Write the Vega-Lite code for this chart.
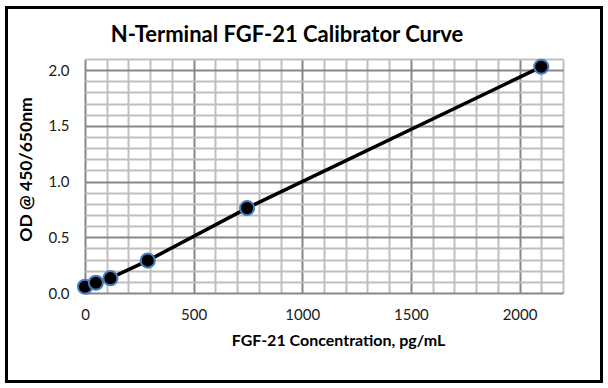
{
  "$schema": "https://vega.github.io/schema/vega-lite/v6.json",
  "width": 478,
  "height": 234,
  "autosize": {"type": "none"},
  "padding": {"left": 85, "top": 59, "right": 45, "bottom": 95},
  "background": "white",
  "config": {
    "view": {"stroke": null},
    "font": "Lato",
    "axis": {
      "labelFont": "Lato",
      "labelFontSize": 15,
      "labelColor": "#1a1a1a",
      "titleFont": "Lato",
      "titleFontWeight": "bold",
      "titleColor": "#000000",
      "ticks": false,
      "domain": false,
      "grid": true,
      "gridWidth": 2,
      "labelOverlap": false,
      "labelFlush": false
    }
  },
  "title": {
    "text": "N-Terminal FGF-21 Calibrator Curve",
    "font": "Lato",
    "fontSize": 22,
    "fontWeight": "bold",
    "color": "#000000",
    "anchor": "middle",
    "frame": "group",
    "dx": -37,
    "offset": -41
  },
  "data": {
    "values": [
      {"conc": 0, "od": 0.056},
      {"conc": 50, "od": 0.092},
      {"conc": 117, "od": 0.133},
      {"conc": 289, "od": 0.291},
      {"conc": 746, "od": 0.762},
      {"conc": 2100, "od": 2.03}
    ]
  },
  "encoding": {
    "x": {
      "field": "conc",
      "type": "quantitative",
      "scale": {"domain": [0, 2200], "nice": false, "zero": false},
      "axis": {
        "title": "FGF-21 Concentration, pg/mL",
        "titleFontSize": 16,
        "grid": true,
        "values": [0, 100, 200, 300, 400, 500, 600, 700, 800, 900, 1000, 1100, 1200, 1300, 1400, 1500, 1600, 1700, 1800, 1900, 2000, 2100, 2200],
        "labelExpr": "datum.value % 500 === 0 ? datum.label : ''",
        "format": "d",
        "labelPadding": 14,
        "gridColor": {"condition": {"test": "datum.value % 500 === 0", "value": "#878787"}, "value": "#BFBFBF"},
        "titleX": 253,
        "titleY": 52,
        "titleAlign": "center",
        "titleBaseline": "alphabetic"
      }
    },
    "y": {
      "field": "od",
      "type": "quantitative",
      "scale": {"domain": [0, 2.1], "nice": false, "zero": false},
      "axis": {
        "title": "OD @ 450/650nm",
        "titleFontSize": 17.5,
        "grid": true,
        "values": [0, 0.1, 0.2, 0.3, 0.4, 0.5, 0.6, 0.7, 0.8, 0.9, 1.0, 1.1, 1.2, 1.3, 1.4, 1.5, 1.6, 1.7, 1.8, 1.9, 2.0, 2.1],
        "format": ".1f",
        "labelExpr": "abs(datum.value * 2 - round(datum.value * 2)) < 0.001 ? datum.label : ''",
        "labelPadding": 16,
        "gridColor": {"condition": {"test": "abs(datum.value * 2 - round(datum.value * 2)) < 0.001", "value": "#878787"}, "value": "#BFBFBF"},
        "titleX": -54,
        "titleY": 110,
        "titleAngle": -90,
        "titleAlign": "center",
        "titleBaseline": "alphabetic"
      }
    }
  },
  "layer": [
    {
      "mark": {"type": "line", "color": "#000000", "strokeWidth": 3.5}
    },
    {
      "mark": {"type": "point", "filled": true, "fill": "#000000", "stroke": "#4A7EBB", "strokeWidth": 2, "size": 200, "opacity": 1}
    },
    {
      "mark": {"type": "rect", "clip": false, "fill": null, "stroke": "#000000", "strokeWidth": 3},
      "encoding": {
        "x": {
          "datum": -361.3,
          "type": "quantitative",
          "scale": {"domain": [0, 2200], "nice": false, "zero": false},
          "axis": {
            "title": "FGF-21 Concentration, pg/mL",
            "titleFontSize": 16,
            "grid": true,
            "values": [0, 100, 200, 300, 400, 500, 600, 700, 800, 900, 1000, 1100, 1200, 1300, 1400, 1500, 1600, 1700, 1800, 1900, 2000, 2100, 2200],
            "labelExpr": "datum.value % 500 === 0 ? datum.label : ''",
            "format": "d",
            "labelPadding": 14,
            "gridColor": {"condition": {"test": "datum.value % 500 === 0", "value": "#878787"}, "value": "#BFBFBF"},
            "titleX": 253,
            "titleY": 52,
            "titleAlign": "center",
            "titleBaseline": "alphabetic"
          }
        },
        "x2": {"datum": 2377.2},
        "y": {
          "datum": 2.562,
          "type": "quantitative",
          "scale": {"domain": [0, 2.1], "nice": false, "zero": false},
          "axis": {
            "title": "OD @ 450/650nm",
            "titleFontSize": 17.5,
            "grid": true,
            "values": [0, 0.1, 0.2, 0.3, 0.4, 0.5, 0.6, 0.7, 0.8, 0.9, 1.0, 1.1, 1.2, 1.3, 1.4, 1.5, 1.6, 1.7, 1.8, 1.9, 2.0, 2.1],
            "format": ".1f",
            "labelExpr": "abs(datum.value * 2 - round(datum.value * 2)) < 0.001 ? datum.label : ''",
            "labelPadding": 16,
            "gridColor": {"condition": {"test": "abs(datum.value * 2 - round(datum.value * 2)) < 0.001", "value": "#878787"}, "value": "#BFBFBF"},
            "titleX": -54,
            "titleY": 110,
            "titleAngle": -90,
            "titleAlign": "center",
            "titleBaseline": "alphabetic"
          }
        },
        "y2": {"datum": -0.794}
      }
    }
  ]
}
